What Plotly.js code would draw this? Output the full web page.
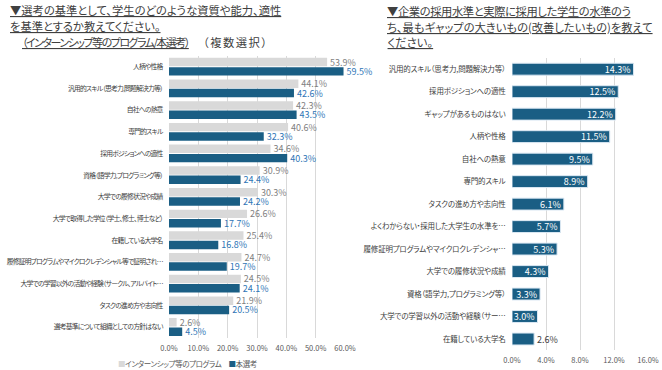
<!DOCTYPE html>
<html>
<head>
<meta charset="utf-8">
<script src="https://cdn.plot.ly/plotly-3.0.1.min.js"></script>
<style>
  html, body { margin: 0; padding: 0; background: #fff; }
  #chart { width: 662px; height: 370px; }
  svg text { font-feature-settings: "palt" 1; }
  .ytick text { letter-spacing: -0.8px; }
  .y2tick text { letter-spacing: -0.2px; }
</style>
</head>
<body>
<div id="chart"></div>
<script>
// ---- data ----
const leftCategories = [
  '人柄や性格',
  '汎用的スキル（思考力,問題解決力等）',
  '自社への熱意',
  '専門的スキル',
  '採用ポジションへの適性',
  '資格（語学力,プログラミング等）',
  '大学での履修状況や成績',
  '大学で取得した学位（学士、修士、博士など）',
  '在籍している大学名',
  '履修証明プログラムやマイクロクレデンシャル等で証明され…',
  '大学での学習以外の活動や経験（サークル、アルバイト…',
  'タスクの進め方や志向性',
  '選考基準について組織としての方針はない'
];
const internshipValues = [53.9, 44.1, 42.3, 40.6, 34.6, 30.9, 30.3, 26.6, 25.4, 24.7, 24.5, 21.9, 2.6];
const mainSelectionValues = [59.5, 42.6, 43.5, 32.3, 40.3, 24.4, 24.2, 17.7, 16.8, 19.7, 24.1, 20.5, 4.5];
const seriesNames = ['インターンシップ等のプログラム', '本選考'];

const rightCategories = [
  '汎用的スキル（思考力,問題解決力等）',
  '採用ポジションへの適性',
  'ギャップがあるものはない',
  '人柄や性格',
  '自社への熱意',
  '専門的スキル',
  'タスクの進め方や志向性',
  'よくわからない・採用した大学生の水準を…',
  '履修証明プログラムやマイクロクレデンシャ…',
  '大学での履修状況や成績',
  '資格（語学力,プログラミング等）',
  '大学での学習以外の活動や経験（サー…',
  '在籍している大学名'
];
const gapValues = [14.3, 12.5, 12.2, 11.5, 9.5, 8.9, 6.1, 5.7, 5.3, 4.3, 3.3, 3.0, 2.6];

const leftTitleLines = [
  '▼選考の基準として、学生のどのような資質や能力、適性',
  'を基準とするか教えてください。',
  '（インターンシップ等のプログラム/本選考）',
  '（複数選択）'
];
const rightTitleLines = [
  '▼企業の採用水準と実際に採用した学生の水準のう',
  'ち、最もギャップの大きいもの(改善したいもの)を教えて',
  'ください。'
];

// ---- styling ----
const W = 662, H = 370;
const FONT = '"Noto Sans CJK JP", "Noto Sans", sans-serif';
const GRAY = '#d9d9d9';
const BLUE = '#1a5e84';
const px = v => v / W;
const py = v => 1 - v / H;

const traces = [
  {
    type: 'bar', orientation: 'h', name: seriesNames[0],
    x: internshipValues, y: leftCategories, xaxis: 'x', yaxis: 'y',
    width: 0.39, offset: -0.41,
    marker: { color: GRAY },
    texttemplate: '%{x:.1f}%', textposition: 'outside', cliponaxis: false,
    constraintext: 'none',
    textfont: { family: FONT, size: 9, color: '#7f7f7f' },
    hoverinfo: 'skip', showlegend: false
  },
  {
    type: 'bar', orientation: 'h', name: seriesNames[1],
    x: mainSelectionValues, y: leftCategories, xaxis: 'x', yaxis: 'y',
    width: 0.39, offset: 0.02,
    marker: { color: BLUE },
    texttemplate: '%{x:.1f}%', textposition: 'outside', cliponaxis: false,
    constraintext: 'none',
    textfont: { family: FONT, size: 9, color: '#2e75b6' },
    hoverinfo: 'skip', showlegend: false
  },
  {
    type: 'bar', orientation: 'h',
    x: gapValues, y: rightCategories, xaxis: 'x2', yaxis: 'y2',
    width: 0.53,
    marker: { color: BLUE, line: { color: '#dbe8f3', width: 1 } },
    texttemplate: '%{x:.1f}%',
    textposition: gapValues.map((v, i) => i === gapValues.length - 1 ? 'outside' : 'inside'),
    insidetextanchor: 'end',
    constraintext: 'none', cliponaxis: false,
    insidetextfont: { family: FONT, size: 9, color: '#ffffff' },
    outsidetextfont: { family: FONT, size: 9, color: '#404040' },
    hoverinfo: 'skip', showlegend: false
  }
];

const xCommon = {
  showgrid: true, gridcolor: GRAY, gridwidth: 1, zeroline: false, showline: false,
  ticks: 'outside', ticklen: 3, tickcolor: 'rgba(0,0,0,0)',
  ticksuffix: '%', tickformat: '.1f',
  tickfont: { family: FONT, size: 7.5, color: '#595959' }, fixedrange: true
};
const yCommon = {
  type: 'category', showgrid: false, zeroline: false, showline: false,
  ticks: 'outside', ticklen: 4, tickcolor: 'rgba(0,0,0,0)',
  tickfont: { family: FONT, size: 6.8, color: '#404040' }, fixedrange: true
};

function titleAnn(text, x, y, size) {
  return {
    xref: 'paper', yref: 'paper', x: px(x), y: py(y),
    xanchor: 'left', yanchor: 'middle', showarrow: false,
    text: text, font: { family: FONT, size: size, color: '#404040' }
  };
}
const squeeze = (t, ls) => '<span style="letter-spacing:' + ls + 'px">' + t + '</span>';

const annotations = [
  titleAnn('<u>' + leftTitleLines[0] + '</u>', 8, 10, 11.3),
  titleAnn('<u>' + leftTitleLines[1] + '</u>', 8, 26, 11.3),
  titleAnn('<u>' + squeeze(leftTitleLines[2], -1.5) + '</u>', 20, 42, 11),
  titleAnn(squeeze(leftTitleLines[3], 1.5), 201, 42, 11.3),
  titleAnn('<u>' + squeeze(rightTitleLines[0], -0.4) + '</u>', 385, 11, 11.3),
  titleAnn('<u>' + rightTitleLines[1] + '</u>', 385, 27, 11.3),
  titleAnn('<u>' + rightTitleLines[2] + '</u>', 385, 42, 11.3),
  {
    xref: 'paper', yref: 'paper', x: px(187), y: py(363),
    xanchor: 'center', yanchor: 'middle', showarrow: false,
    text: squeeze('<span style="color:' + GRAY + '">■</span>' + seriesNames[0] +
          '　<span style="color:' + BLUE + '">■</span>' + seriesNames[1], -0.4),
    font: { family: FONT, size: 7.5, color: '#595959' }
  }
];

const layout = {
  width: W, height: H,
  margin: { l: 0, r: 0, t: 0, b: 0 },
  paper_bgcolor: '#ffffff', plot_bgcolor: '#ffffff',
  barmode: 'overlay', showlegend: false,
  font: { family: FONT },
  xaxis: Object.assign({}, xCommon, { domain: [px(169), px(345)], range: [0, 60], dtick: 10, anchor: 'y' }),
  yaxis: Object.assign({}, yCommon, {
    domain: [py(337.85), py(55.85)], range: [12.5, -0.5], anchor: 'x',
    categoryorder: 'array', categoryarray: leftCategories
  }),
  xaxis2: Object.assign({}, xCommon, { domain: [px(512), px(648)], range: [0, 16], dtick: 4, anchor: 'y2' }),
  yaxis2: Object.assign({}, yCommon, {
    domain: [py(350.25), py(57.95)], range: [12.5, -0.5], anchor: 'x2',
    categoryorder: 'array', categoryarray: rightCategories,
    tickfont: { family: FONT, size: 7.5, color: '#404040' }
  }),
  annotations: annotations
};

Plotly.newPlot('chart', traces, layout, { staticPlot: true, displayModeBar: false });
</script>
</body>
</html>
